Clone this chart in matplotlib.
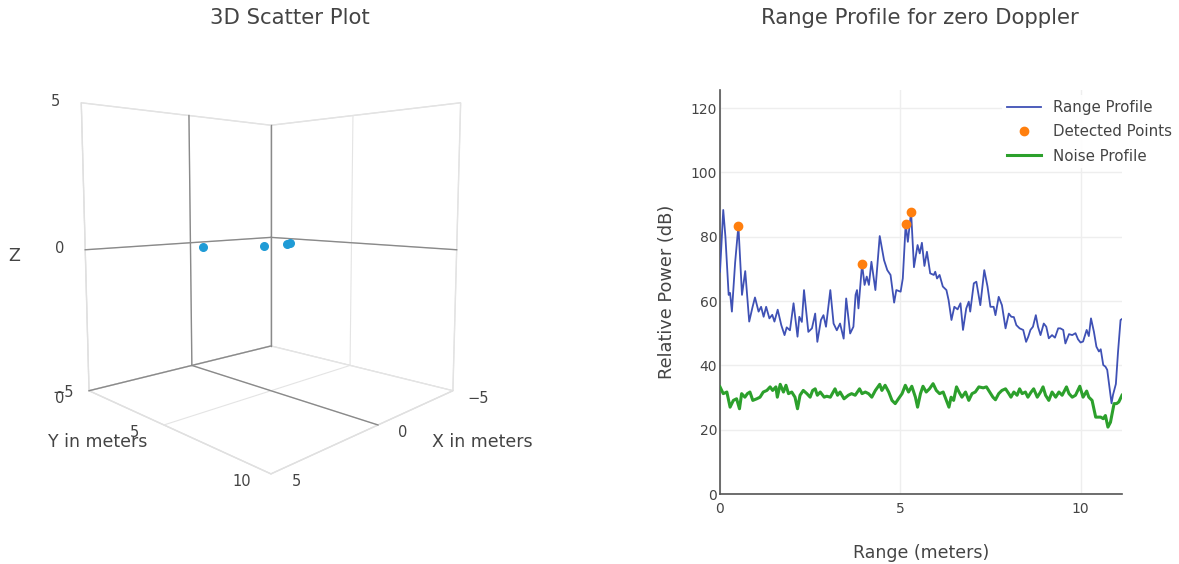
import numpy as np
import matplotlib
matplotlib.use('Agg')
import matplotlib.pyplot as plt

plt.rcParams['font.family'] = ['DejaVu Sans']
TXT = '#444444'

# ---------------- data ----------------
range_m = [0.00, 0.09, 0.15, 0.24, 0.28, 0.33, 0.42, 0.51, 0.61, 0.70, 0.81, 0.90, 0.97,
           1.07, 1.14, 1.21, 1.28, 1.37, 1.45, 1.51, 1.60, 1.70, 1.79, 1.85, 1.94, 2.04,
           2.15, 2.20, 2.27, 2.33, 2.45, 2.55, 2.64, 2.70, 2.80, 2.87, 2.94, 3.06, 3.15,
           3.24, 3.33, 3.43, 3.50, 3.61, 3.70, 3.76, 3.80, 3.84, 3.94, 4.01, 4.07, 4.13,
           4.20, 4.31, 4.43, 4.55, 4.64, 4.73, 4.83, 4.89, 5.01, 5.07, 5.15, 5.21, 5.30,
           5.38, 5.48, 5.54, 5.60, 5.67, 5.74, 5.83, 5.93, 5.97, 6.02, 6.09, 6.18, 6.28,
           6.34, 6.42, 6.50, 6.59, 6.67, 6.74, 6.83, 6.90, 6.94, 7.04, 7.11, 7.22, 7.33,
           7.42, 7.50, 7.59, 7.64, 7.73, 7.82, 7.92, 8.01, 8.08, 8.15, 8.22, 8.31, 8.41,
           8.49, 8.55, 8.61, 8.68, 8.76, 8.82, 8.89, 8.98, 9.05, 9.12, 9.21, 9.29, 9.38,
           9.44, 9.52, 9.58, 9.68, 9.77, 9.86, 9.93, 10.00, 10.07, 10.17, 10.23, 10.29,
           10.37, 10.44, 10.51, 10.56, 10.63, 10.69, 10.74, 10.77, 10.86, 10.90, 10.98,
           11.04, 11.11, 11.15]
range_db = [69.1, 88.3, 80.0, 61.9, 62.5, 56.7, 72.0, 83.4, 61.9, 69.3, 53.6, 58.0, 61.1,
            56.7, 58.2, 55.1, 58.2, 54.6, 55.7, 53.6, 57.3, 52.5, 49.4, 51.8, 50.9, 59.3,
            48.9, 55.1, 53.5, 63.4, 50.4, 51.5, 56.1, 47.3, 54.1, 55.6, 52.0, 63.4, 53.0,
            50.9, 53.0, 48.3, 60.8, 49.9, 52.0, 61.9, 63.4, 57.7, 71.4, 65.0, 67.6, 65.0,
            72.2, 63.4, 80.2, 72.7, 69.6, 68.1, 59.5, 63.4, 62.9, 67.0, 83.8, 78.4, 87.7,
            70.5, 77.4, 74.8, 78.1, 70.9, 75.3, 68.6, 68.1, 69.1, 67.0, 68.1, 64.5, 63.4,
            60.3, 54.1, 58.2, 57.4, 59.3, 51.0, 57.7, 59.8, 56.7, 65.5, 66.0, 58.7, 69.6,
            64.5, 58.2, 58.2, 55.6, 61.3, 58.7, 51.5, 56.1, 55.1, 55.0, 52.5, 51.5, 51.0,
            47.3, 48.9, 51.0, 52.0, 55.6, 52.0, 49.4, 53.0, 52.0, 48.4, 49.4, 48.6, 51.5,
            51.5, 51.0, 46.8, 49.7, 49.4, 50.0, 48.1, 47.1, 47.4, 51.0, 49.1, 54.6,
            50.5, 45.8, 44.3, 45.0, 40.1, 39.6, 38.6, 36.0, 28.2, 30.8, 34.2,
            44.2, 54.1, 54.4]

noise_m = [0.00, 0.09, 0.19, 0.28, 0.37, 0.46, 0.54, 0.60, 0.69, 0.76, 0.83, 0.91, 1.02,
           1.11, 1.20, 1.30, 1.39, 1.46, 1.55, 1.59, 1.67, 1.76, 1.83, 1.90, 1.99, 2.08,
           2.15, 2.22, 2.31, 2.41, 2.50, 2.57, 2.64, 2.70, 2.78, 2.89, 2.96, 3.06, 3.19,
           3.26, 3.33, 3.44, 3.56, 3.65, 3.75, 3.87, 3.94, 4.03, 4.12, 4.21, 4.31, 4.43,
           4.49, 4.58, 4.68, 4.77, 4.86, 4.95, 5.05, 5.14, 5.23, 5.32, 5.42, 5.48, 5.56,
           5.63, 5.72, 5.81, 5.91, 6.00, 6.09, 6.19, 6.28, 6.35, 6.41, 6.48, 6.56, 6.63,
           6.71, 6.81, 6.90, 6.99, 7.08, 7.18, 7.30, 7.39, 7.48, 7.57, 7.64, 7.73, 7.82,
           7.92, 8.01, 8.07, 8.15, 8.24, 8.31, 8.38, 8.47, 8.54, 8.63, 8.70, 8.80, 8.89,
           8.96, 9.03, 9.12, 9.21, 9.31, 9.40, 9.49, 9.61, 9.68, 9.77, 9.86, 9.98, 10.07,
           10.17, 10.23, 10.32, 10.42, 10.56, 10.63, 10.69, 10.76, 10.83, 10.93, 11.00,
           11.06, 11.15]
noise_db = [33.3, 31.2, 31.7, 27.0, 29.1, 29.6, 26.5, 31.2, 30.1, 31.2, 31.7, 29.1, 29.6,
            30.1, 31.7, 32.2, 33.3, 32.2, 33.3, 30.1, 34.1, 31.7, 33.8, 31.2, 31.7, 30.1,
            26.5, 30.7, 32.2, 31.2, 30.1, 32.2, 32.7, 30.7, 31.7, 30.1, 30.4, 30.1, 32.7,
            30.7, 31.7, 29.6, 30.7, 31.2, 30.7, 32.7, 31.2, 31.7, 31.2, 30.1, 32.2, 34.1,
            32.2, 33.8, 31.7, 29.1, 28.1, 29.6, 31.2, 33.8, 31.7, 33.5, 30.1, 27.0, 31.2,
            33.5, 31.7, 32.7, 34.3, 32.2, 31.2, 31.7, 29.1, 27.0, 30.1, 29.1, 33.3, 31.7,
            30.1, 31.7, 29.1, 31.2, 31.7, 33.3, 33.0, 33.3, 31.7, 30.1, 29.3, 31.2, 32.2,
            32.7, 31.2, 30.1, 31.7, 30.7, 32.7, 31.2, 31.7, 30.1, 31.7, 32.7, 30.1, 31.7,
            33.3, 30.7, 29.1, 31.7, 30.1, 31.7, 30.7, 33.3, 31.2, 30.1, 30.7, 33.5, 30.1,
            32.0, 30.1, 29.1, 23.9, 23.9, 23.4, 24.4, 20.8, 22.3, 28.1, 28.1,
            28.6, 30.7]

det_m = [0.51, 3.94, 5.15, 5.30]
det_db = [83.4, 71.4, 83.8, 87.7]

# 3D detected points (x, y, z in meters)
pts_x = [-0.3, -0.7, -0.8, -0.8]
pts_y = [0.51, 3.90, 5.10, 5.25]
pts_z = [-0.15, 0.05, 0.18, 0.22]

x3_ticks = [-5, 0, 5]
y3_ticks = [0, 5, 10]
z3_ticks = [-5, 0, 5]

# ---------------- figure ----------------
fig = plt.figure(figsize=(11.79, 5.64), dpi=100)

# ---- 3D scatter ----
ax3 = fig.add_axes([-0.006, 0.095, 0.46, 0.90], projection='3d')
ax3.set_proj_type('persp', focal_length=0.22)
ax3.view_init(elev=5, azim=45)
ax3.set_xlim(-5, 5)
ax3.set_ylim(0, 10)
ax3.set_zlim(-5, 5)
ax3.set_box_aspect((1, 1, 1.1), zoom=0.9)
for axis in (ax3.xaxis, ax3.yaxis, ax3.zaxis):
    axis.set_pane_color((1, 1, 1, 1))
    axis.pane.set_edgecolor('#e0e0e0')
    axis.line.set_color('#e0e0e0')
    axis._axinfo['grid']['color'] = '#e4e4e4'
    axis._axinfo['grid']['linewidth'] = 0.8
    axis._axinfo['tick']['inward_factor'] = 0.0
    axis._axinfo['tick']['outward_factor'] = 0.0
ax3.set_xticks(x3_ticks)
ax3.set_yticks(y3_ticks)
ax3.set_zticks(z3_ticks)
for axis in (ax3.xaxis, ax3.yaxis, ax3.zaxis):
    axis.set_tick_params(labelbottom=False, labeltop=False, labelleft=False,
                         labelright=False)

zl = dict(color='#8a8a8a', lw=1.0)
ax3.plot([0, 0], [0, 0], [-5, 5], **zl)
ax3.plot([-5, 5], [0, 0], [0, 0], **zl)
ax3.plot([-5, -5], [0, 10], [0, 0], **zl)
ax3.plot([-5, -5], [0, 0], [-5, 5], **zl)
ax3.plot([0, 0], [0, 10], [-5, -5], **zl)
ax3.plot([-5, 5], [0, 0], [-5, -5], **zl)

ax3.scatter(pts_x, pts_y, pts_z, color='#1f9bd6', s=30, depthshade=False, zorder=10)

# ---- tick labels of the 3D box, placed next to the projected edge points ----
fig.canvas.draw()
W, H = fig.bbox.width, fig.bbox.height
M = ax3.M


def label3d(x, y, z, s, dx, dy):
    v = M @ np.array([x, y, z, 1.0])
    px, py = ax3.transData.transform((v[0] / v[3], v[1] / v[3]))
    fig.text((px + dx) / W, (py + dy) / H, s, fontsize=10.5, color=TXT,
             ha='center', va='center')


for v in x3_ticks:
    label3d(v, 10, -5, f'{v}'.replace('-', '\u2212'), 25, -8)
for v in y3_ticks:
    label3d(5, v, -5, f'{v}', -29, -8)
for v in z3_ticks:
    label3d(5, 0, v, f'{v}'.replace('-', '\u2212'), -26, -2 if v < 0 else 1)

# 3D axis titles (horizontal, as in the reference)
fig.text(98 / 1179, 1 - 442 / 564, 'Y in meters', ha='center', va='center',
         fontsize=12.5, color=TXT)
fig.text(482 / 1179, 1 - 442 / 564, 'X in meters', ha='center', va='center',
         fontsize=12.5, color=TXT)
fig.text(14 / 1179, 1 - 256 / 564, 'Z', ha='center', va='center',
         fontsize=12.5, color=TXT)

fig.text(290 / 1179, 1 - 18 / 564, '3D Scatter Plot', ha='center', va='center',
         fontsize=15.3, color=TXT)

# ---- Range profile ----
ax = fig.add_axes([720 / 1179, 1 - 494 / 564, 402 / 1179, 404 / 564])
ax.plot(range_m, range_db, color='#3F51B5', lw=1.3, label='Range Profile', zorder=3)
ax.plot(det_m, det_db, 'o', color='#FF7F0E', ms=6, label='Detected Points', zorder=4)
ax.plot(noise_m, noise_db, color='#2CA02C', lw=2.2, label='Noise Profile', zorder=3)
ax.set_xlim(0, 11.15)
ax.set_ylim(0, 125.6)
ax.set_xticks([0, 5, 10])
ax.set_yticks([0, 20, 40, 60, 80, 100, 120])
ax.grid(True, color='#eeeeee', lw=1.0)
ax.set_axisbelow(True)
for s in ('top', 'right'):
    ax.spines[s].set_visible(False)
for s in ('left', 'bottom'):
    ax.spines[s].set_color('#555555')
    ax.spines[s].set_linewidth(1.2)
ax.tick_params(length=0, labelsize=10, colors=TXT)
ax.tick_params(axis='x', pad=6)
ax.tick_params(axis='y', pad=2)
ax.set_xlabel('Range (meters)', fontsize=12.5, color=TXT, labelpad=20)
ax.set_ylabel('Relative Power (dB)', fontsize=12.8, color=TXT, labelpad=11)
leg = ax.legend(loc='upper right', bbox_to_anchor=(1.155, 1.005), frameon=True,
                fontsize=10.8, labelcolor=TXT, handlelength=2.3, borderpad=0.3,
                labelspacing=0.62)
leg.get_frame().set_edgecolor('none')
leg.get_frame().set_alpha(0.9)

fig.text(920 / 1179, 1 - 18 / 564, 'Range Profile for zero Doppler', ha='center',
         va='center', fontsize=15.3, color=TXT)

fig.savefig('out.png', dpi=100)
